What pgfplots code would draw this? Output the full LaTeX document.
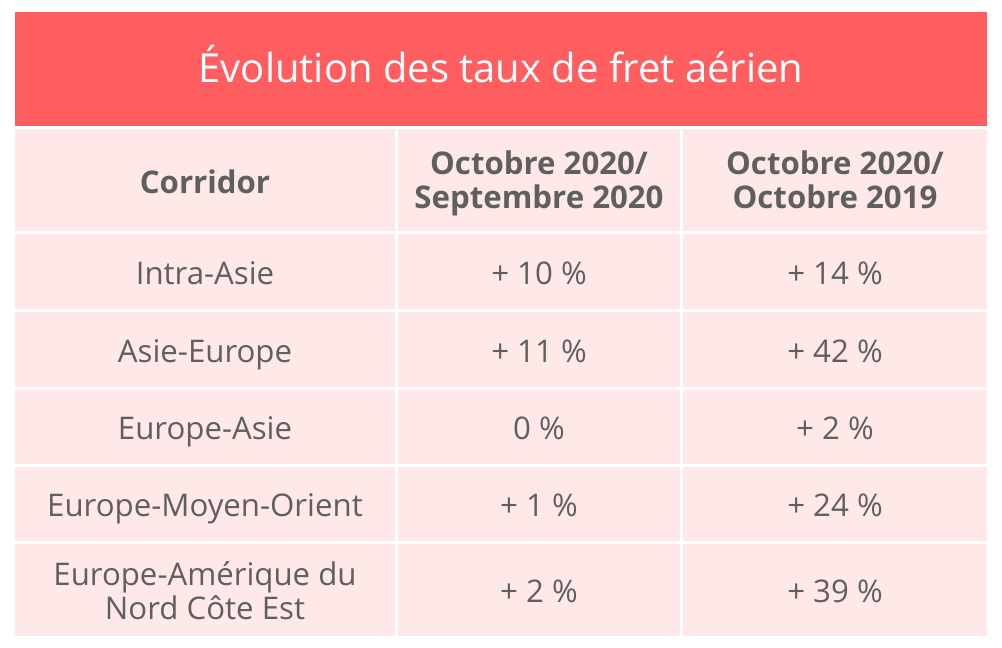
\documentclass[border=0pt]{standalone}
\usepackage{pgfplots}
\pgfplotsset{compat=1.18}
\usepackage{fontspec}
\setmainfont{Open Sans}
\definecolor{hdr}{HTML}{FF5E61}
\definecolor{cell}{HTML}{FEE8E8}
\definecolor{txt}{HTML}{5F5F5F}

\begin{document}
\begin{tikzpicture}
\begin{axis}[
    width=501pt, height=324pt, scale only axis,
    xmin=0, xmax=1002, ymin=0, ymax=648, y dir=reverse,
    hide axis, clip=false,
]
\fill[white] (axis cs:0,0) rectangle (axis cs:1002,648);
% title band and body
\addplot[fill=hdr, draw=none, mark=none] coordinates {(15,12) (987,12) (987,126) (15,126)} -- cycle;
\addplot[fill=cell, draw=none, mark=none] coordinates {(15,129) (987,129) (987,636) (15,636)} -- cycle;
% white grid lines
\addplot[white, line width=1.5pt, mark=none] coordinates {(396.5,129) (396.5,636)};
\addplot[white, line width=1.5pt, mark=none] coordinates {(681.5,129) (681.5,636)};
\addplot[white, line width=1.5pt, mark=none] coordinates {(15,232) (987,232)};
\addplot[white, line width=1.5pt, mark=none] coordinates {(15,310.5) (987,310.5)};
\addplot[white, line width=1.5pt, mark=none] coordinates {(15,388.5) (987,388.5)};
\addplot[white, line width=1.5pt, mark=none] coordinates {(15,465.5) (987,465.5)};
\addplot[white, line width=1.5pt, mark=none] coordinates {(15,542.5) (987,542.5)};

\node[anchor=base, text=white, font=\fontsize{20}{24}\selectfont] at (axis cs:501,83) {Évolution des taux de fret aérien};

\tikzset{cl/.style={anchor=base, text=txt, font=\fontsize{15.6}{18}\selectfont},
         hd/.style={anchor=base, text=txt, font=\fontsize{15.6}{18}\selectfont\bfseries}}
\node[hd] at (axis cs:205,193) {Corridor};
\node[hd] at (axis cs:539,174) {Octobre 2020/};
\node[hd] at (axis cs:539,208) {Septembre 2020};
\node[hd] at (axis cs:835,174) {Octobre 2020/};
\node[hd] at (axis cs:835,208) {Octobre 2019};

\node[cl] at (axis cs:205,284) {Intra-Asie};
\node[cl] at (axis cs:539,284) {+ 10 \%};
\node[cl] at (axis cs:835,284) {+ 14 \%};

\node[cl] at (axis cs:205,362) {Asie-Europe};
\node[cl] at (axis cs:539,362) {+ 11 \%};
\node[cl] at (axis cs:835,362) {+ 42 \%};

\node[cl] at (axis cs:205,439) {Europe-Asie};
\node[cl] at (axis cs:539,439) {0 \%};
\node[cl] at (axis cs:835,439) {+ 2 \%};

\node[cl] at (axis cs:205,516) {Europe-Moyen-Orient};
\node[cl] at (axis cs:539,516) {+ 1 \%};
\node[cl] at (axis cs:835,516) {+ 24 \%};

\node[cl] at (axis cs:205,585) {Europe-Amérique du};
\node[cl] at (axis cs:205,619) {Nord Côte Est};
\node[cl] at (axis cs:539,602) {+ 2 \%};
\node[cl] at (axis cs:835,602) {+ 39 \%};
\end{axis}
\end{tikzpicture}
\end{document}
